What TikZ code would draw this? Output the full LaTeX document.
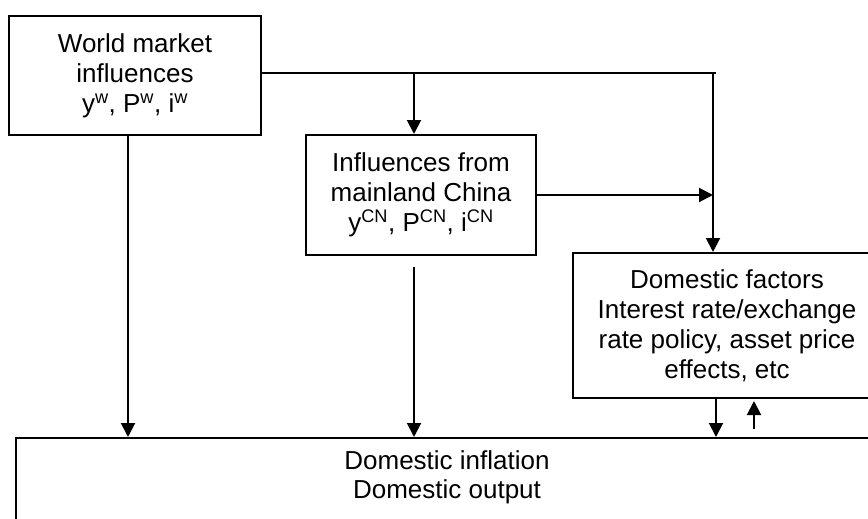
\documentclass[tikz,border=0pt]{standalone}
\usepackage{fontspec}
\setmainfont{Liberation Sans}
\usepackage{tikz}
\usetikzlibrary{arrows.meta, positioning, calc}

\begin{document}
\begin{tikzpicture}[
  x=1pt, y=-1pt,
  box/.style={rectangle, draw=black, line width=2pt, align=center, inner sep=0pt,
              font=\fontsize{26}{30}\selectfont},
  arr/.style={-{Triangle[length=14pt, width=14pt]}, line width=2pt},
  line/.style={line width=2pt}
]
\useasboundingbox (0,0) rectangle (868,519);
\clip (0,0) rectangle (868,519);

% boxes
\node[box, minimum width=252pt, minimum height=119pt] (world) at (135,75.5)
  {World market\\influences\\y\textsuperscript{w}, P\textsuperscript{w}, i\textsuperscript{w}};
\node[box, minimum width=230pt, minimum height=120pt] (china) at (421,195)
  {Influences from\\mainland China\\y\textsuperscript{CN}, P\textsuperscript{CN}, i\textsuperscript{CN}};
\node[box, minimum width=308pt, minimum height=145pt] (domf) at (727,325.5)
  {Domestic factors\\Interest rate/exchange\\rate policy, asset price\\effects, etc};
\node[box, minimum width=862pt, minimum height=160pt, anchor=north] (infl) at (447,437) {};
\node[align=center, font=\fontsize{26}{29}\selectfont] (infltext) at (447,477)
  {Domestic inflation\\Domestic output};

% joints
\coordinate (top) at (713,73);
\coordinate (cx) at (414,0);
\coordinate (wx) at (128,0);
\coordinate (dx) at (716,0);
\coordinate (ux) at (754,0);

% connectors
\draw[line] (world.east |- top) -- ([xshift=3pt]top);
\draw[arr] (top) -- (top |- domf.north);
\draw[arr] (cx |- top) -- (cx |- china.north);
\draw[arr] (china.east) -- (top |- china.east);
\draw[arr] (wx |- world.south) -- (wx |- infl.north);
\draw[arr] ([yshift=-11pt]cx |- china.south) -- (cx |- infl.north);
\draw[arr] (dx |- domf.south) -- (dx |- infl.north);
\draw[arr] ([yshift=8pt]ux |- infl.north) -- ([yshift=-2pt]ux |- domf.south);
\end{tikzpicture}
\end{document}
